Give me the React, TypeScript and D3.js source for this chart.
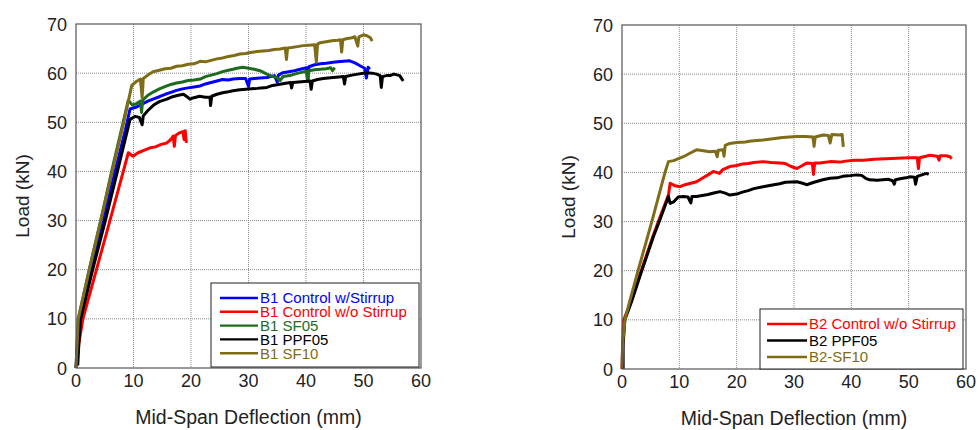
import React from "react";
import * as d3 from "d3";

type Pt = [number, number];

// ---------- Data (left panel: B1 beams) ----------
const b1ControlStirrup: Pt[] = [[0,0],[0.3,5],[0.6,10],[2.7,20],[4.7,30],[6.8,40],[8.6,48.5],[9.4,52.7],[10.3,53],[11.5,53.7],[12.5,54.3],[13.4,54.7],[14.5,55.2],[15.5,55.7],[16.5,56.1],[17.5,56.5],[18.5,56.8],[19.5,57],[20.5,57.2],[21.6,57.4],[22.5,57.8],[23.5,58.1],[24.5,58.4],[25.5,58.7],[26.5,58.6],[27.3,58.8],[28.5,58.9],[29.5,58.9],[30,57.3],[30.2,58.8],[31,58.9],[32,59],[33.2,59.1],[34.5,59.5],[35,58.2],[35.2,59.6],[36,60.1],[37,60.3],[38,60.5],[39,60.8],[40.1,61.1],[40.3,58.4],[40.5,61.3],[41.5,61.7],[42.5,61.9],[43.5,62],[44.7,62.2],[45.5,62.3],[46.5,62.4],[47.6,62.5],[48.5,62.1],[49.4,61.5],[50.2,61],[50.5,59],[50.8,61.2],[51.1,60.8]];
const b1ControlNoStirrup: Pt[] = [[0,0],[0.5,5],[1.2,10],[3.2,18.5],[5.2,27],[7.2,35.6],[9.1,43.8],[9.9,43.1],[10.8,43.8],[11.8,44.3],[12.9,44.8],[13.8,45],[14.8,45.5],[15.8,45.8],[16.5,46.5],[16.9,47.2],[17.1,45.1],[17.3,47.3],[18.1,47.9],[18.6,48.1],[18.8,46.5],[19,48.3],[19.2,45.8]];
const b1SF05: Pt[] = [[0,0],[0.2,5],[0.4,10],[2.3,20],[4.3,30],[6.2,40],[8.2,50],[9.1,54.5],[9.8,53.5],[10.5,53.8],[11.2,54.3],[11.4,52],[11.6,54.5],[12.5,55.5],[13.5,56.2],[14.5,56.8],[15.8,57.4],[16.5,57.7],[17.5,58],[18.5,58.2],[19.5,58.5],[20.5,58.6],[21.6,58.8],[22.5,59.3],[23.5,59.6],[24.5,59.9],[25.5,60.3],[26.5,60.6],[27.3,60.8],[28,61],[29,61.2],[30,61],[31,60.8],[32,60.5],[33.2,59.8],[34,59.4],[34.9,59.1],[35.5,58.5],[36,59.3],[37.2,59.5],[38,59.8],[39,60.1],[40.1,60.4],[40.3,58.4],[40.5,60.5],[41.5,60.7],[42.5,60.8],[43.5,60.9],[44.3,61.1],[44.6,60.5],[45,61.1]];
const b1PPF05: Pt[] = [[0.3,0.5],[0.5,5],[0.8,10],[2.9,20],[5.1,30],[7.2,40],[9.4,50.6],[10.3,51.2],[11,51],[11.5,49.5],[11.7,51.3],[12.5,52.4],[13.5,53.5],[14.5,54.2],[15.8,54.7],[16.8,55.2],[17.8,55.5],[18.7,55.7],[19.3,55.2],[19.8,54.7],[20.5,55],[21.5,55.3],[22.5,55.1],[23.3,55.1],[23.4,53.4],[23.6,55.3],[24.5,55.7],[25.5,56],[26.5,56.2],[27.3,56.4],[28.5,56.6],[29.5,56.7],[30.5,56.8],[31.5,56.9],[32.2,57],[33.2,57.1],[34.2,57.5],[35.2,57.7],[36.2,57.9],[37.3,58.1],[37.5,57],[37.7,58.1],[38.7,58.2],[39.7,58.3],[40.7,58.4],[40.9,56.7],[41.1,58.4],[42,58.7],[43,58.9],[44.7,59.1],[45.7,59.2],[46.5,59.3],[46.7,57.8],[46.9,59.3],[48,59.6],[49,59.8],[50.5,60.1],[51.5,60],[52.3,59.8],[52.9,59.5],[53.1,57.1],[53.3,59.3],[54,59.5],[54.6,59.5],[55.3,59.8],[56.3,59.5],[56.9,58.4]];
const b1SF10: Pt[] = [[0,0],[0.2,5],[0.4,10],[2.3,20],[4.3,30],[6.3,40],[8.3,50],[9.7,57.5],[10.5,58.3],[11.2,58.8],[11.5,55],[11.7,58.9],[12.5,59.6],[13.4,60.3],[14.5,60.6],[15.5,60.9],[16.5,61],[17.5,61.4],[18.5,61.5],[19.5,61.8],[20.5,61.9],[21.6,62.4],[22.5,62.3],[23.5,62.6],[24.5,62.9],[25.5,63.1],[26.5,63.4],[27.5,63.6],[28.5,63.9],[29.5,64],[30.3,64.2],[31.5,64.4],[32.5,64.5],[33.5,64.6],[34.5,64.8],[35.5,64.9],[36.4,65.1],[36.6,62.8],[36.8,65.1],[37.5,65.2],[38.5,65.4],[39.5,65.6],[40.5,65.7],[41.5,65.8],[41.8,62.2],[42,65.9],[42.5,66.2],[43.5,66.4],[44.5,66.6],[45.5,66.7],[46,66.8],[46.2,64.3],[46.4,66.8],[47,67],[48,67.2],[48.5,67.4],[49,65.5],[49.2,67.4],[50,67.8],[50.6,67.6],[51.2,67.2],[51.5,66.5]];

// ---------- Data (right panel: B2 beams) ----------
const b2ControlNoStirrup: Pt[] = [[0,0],[0.1,4],[0.3,10],[1.5,13.5],[3.2,19.5],[5.4,27],[6.5,30.5],[8.1,35.4],[8.4,37.8],[9.2,37.3],[10.1,37.1],[11,37.5],[12,37.8],[13,38.1],[14,38.8],[15,39.5],[15.9,40.2],[16.5,40],[17,39.8],[17.5,40.5],[18.8,41.2],[20,41.4],[21,41.7],[22,41.8],[23,42],[24.6,42.2],[26,42],[27.5,41.9],[28.5,41.8],[29.5,41.2],[30.5,40.8],[31.3,41.3],[32.2,41.9],[33.2,41.8],[33.4,39.6],[33.6,41.9],[34.5,41.9],[36.3,42.2],[38,42.1],[39,42.3],[40.5,42.5],[42.1,42.5],[44,42.7],[46,42.8],[47.9,42.9],[50,43],[51.5,43],[51.7,40.8],[51.9,43],[53,43.3],[53.7,43.5],[55,43.3],[55.3,42.5],[55.5,43.4],[56.5,43.4],[57.2,43.2],[57.5,42.8]];
const b2PPF05: Pt[] = [[0.2,0],[0.2,5],[0.5,10],[1.6,13.5],[3.3,19.5],[5.5,27],[6.5,30],[8.1,35.1],[8.4,33.7],[9,34],[9.8,35],[10.7,35.1],[11.5,35],[12,33.8],[12.2,35.1],[13,35.1],[14,35.3],[15,35.5],[16,35.8],[17.1,36.1],[18,35.8],[18.8,35.4],[20,35.6],[21,36],[22,36.3],[23,36.7],[24.6,37.1],[26,37.4],[27.5,37.7],[28.5,38],[30.5,38.1],[31.5,37.8],[32.2,37.5],[33.5,38],[35,38.5],[36.3,38.8],[37.5,38.9],[38.5,39.2],[39.5,39.3],[40.9,39.5],[41.8,39.4],[42.5,38.8],[43.2,38.5],[44.5,38.4],[45.5,38.5],[46.5,38.6],[47.2,38.3],[47.5,37.6],[47.7,38.5],[48.5,38.7],[49.5,38.9],[50.2,39.1],[51,39],[51.2,37.6],[51.5,39.2],[52.3,39.5],[53.1,39.8],[53.5,39.6]];
const b2SF10: Pt[] = [[0,0],[0.1,5],[0.5,10],[1.4,14],[2.8,20],[5.2,30],[7.5,40],[8.1,42.2],[9,42.4],[10.7,43.2],[12,44],[13,44.6],[14.2,44.4],[15.3,44.2],[16.3,44.3],[16.6,43.2],[16.8,44.5],[17.6,44.6],[17.8,43.3],[18,45.5],[18.8,45.9],[20,46.1],[21.5,46.2],[22.5,46.4],[24.6,46.6],[26,46.8],[28,47.1],[30.5,47.3],[32,47.3],[33.3,47.2],[33.5,45.3],[33.7,47.2],[35.1,47.6],[36,47.5],[36.3,46],[36.6,47.7],[38,47.6],[38.4,47.7],[38.6,45.2]];

const xTicks = [0, 10, 20, 30, 40, 50, 60];
const yTicks = [0, 10, 20, 30, 40, 50, 60, 70];

const leftNames = ["B1 Control w/Stirrup", "B1 Control w/o Stirrup", "B1 SF05", "B1 PPF05", "B1 SF10"];
const rightNames = ["B2 Control w/o Stirrup", "B2 PPF05", "B2-SF10"];

const BLUE = "#0000ff";
const RED = "#ff0000";
const GREEN = "#1e6b1e";
const BLACK = "#000000";
const OLIVE = "#7f6c17";

interface Series { name: string; data: Pt[]; color: string; }

interface LegendCfg { x: number; y: number; w: number; h: number; rowH: number; font: number; lineX: number; lineLen: number; textX: number; firstY: number }

interface PanelProps {
  x0: number; x1: number; y0: number; y1: number;
  series: Series[];
  legend: LegendCfg;
}

const FONT = "Liberation Sans, Arial, sans-serif";

function Panel({ x0, x1, y0, y1, series, legend }: PanelProps) {
  const xs = d3.scaleLinear().domain([0, 60]).range([x0, x1]);
  const ys = d3.scaleLinear().domain([0, 70]).range([y1, y0]);
  const line = d3.line<Pt>().x(d => xs(d[0])).y(d => ys(d[1]));
  const cx = (x0 + x1) / 2;
  const cy = (y0 + y1) / 2;
  return (
    <g>
      {xTicks.slice(1, -1).map(t => (
        <line key={"gx" + t} x1={xs(t)} x2={xs(t)} y1={y0} y2={y1} stroke="#8a8a8a" strokeWidth={1} strokeDasharray="1,1" />
      ))}
      {yTicks.slice(1, -1).map(t => (
        <line key={"gy" + t} x1={x0} x2={x1} y1={ys(t)} y2={ys(t)} stroke="#8a8a8a" strokeWidth={1} strokeDasharray="1,1" />
      ))}
      {series.map(s => (
        <path key={s.name} d={line(s.data) || ""} fill="none" stroke={s.color} strokeWidth={3} strokeLinejoin="round" />
      ))}
      <rect x={x0} y={y0} width={x1 - x0} height={y1 - y0} fill="none" stroke="#555" strokeWidth={1.2} />
      {xTicks.map(t => (
        <text key={"xt" + t} x={xs(t)} y={y1 + 18.5} textAnchor="middle" fontFamily={FONT} fontSize={18} fill="#222">{t}</text>
      ))}
      {yTicks.map(t => (
        <text key={"yt" + t} x={x0 - 9} y={ys(t) + 6.5} textAnchor="end" fontFamily={FONT} fontSize={18} fill="#222">{t}</text>
      ))}
      <text x={cx} y={y1 + 56} textAnchor="middle" fontFamily={FONT} fontSize={19.5} fill="#222">Mid-Span Deflection (mm)</text>
      <text transform={`translate(${x0 - 47},${cy}) rotate(-90)`} textAnchor="middle" fontFamily={FONT} fontSize={19} fill="#222">Load (kN)</text>
      <rect x={legend.x} y={legend.y} width={legend.w} height={legend.h} fill="#fff" stroke="#222" strokeWidth={1} />
      {series.map((s, i) => {
        const ry = legend.firstY + i * legend.rowH;
        return (
          <g key={"lg" + s.name}>
            <line x1={legend.lineX} x2={legend.lineX + legend.lineLen} y1={ry} y2={ry} stroke={s.color} strokeWidth={2.4} />
            <text x={legend.textX} y={ry + legend.font * 0.36} fontFamily={FONT} fontSize={legend.font} fill={s.color}>{s.name}</text>
          </g>
        );
      })}
    </g>
  );
}

export default function App() {
  const leftSeries: Series[] = [
    { name: leftNames[0], data: b1ControlStirrup, color: BLUE },
    { name: leftNames[1], data: b1ControlNoStirrup, color: RED },
    { name: leftNames[2], data: b1SF05, color: GREEN },
    { name: leftNames[3], data: b1PPF05, color: BLACK },
    { name: leftNames[4], data: b1SF10, color: OLIVE },
  ];
  const rightSeries: Series[] = [
    { name: rightNames[0], data: b2ControlNoStirrup, color: RED },
    { name: rightNames[1], data: b2PPF05, color: BLACK },
    { name: rightNames[2], data: b2SF10, color: OLIVE },
  ];
  return (
    <svg width={979} height={430} style={{ position: "absolute", left: 0, top: 0, background: "#fff" }}>
      <rect x={0} y={0} width={979} height={430} fill="#fff" />
      <Panel x0={76} x1={421} y0={24} y1={368} series={leftSeries}
        legend={{ x: 211, y: 283, w: 208, h: 84, rowH: 13.8, font: 15, lineX: 220, lineLen: 38, textX: 260, firstY: 298 }} />
      <Panel x0={622} x1={966} y0={25} y1={369} series={rightSeries}
        legend={{ x: 760, y: 309, w: 203, h: 60, rowH: 16.5, font: 15, lineX: 767, lineLen: 40, textX: 809, firstY: 324 }} />
    </svg>
  );
}
